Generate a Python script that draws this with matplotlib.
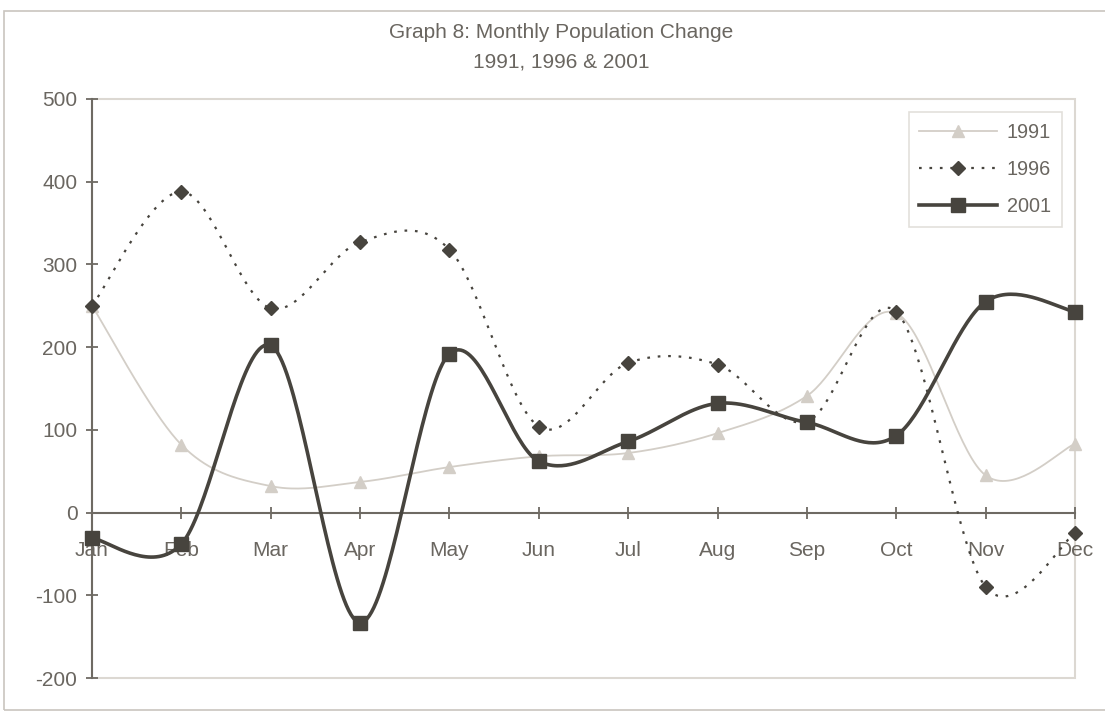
import numpy as np
import matplotlib
matplotlib.use("Agg")
import matplotlib.pyplot as plt
from matplotlib.patches import Rectangle
from matplotlib.lines import Line2D

months = ["Jan", "Feb", "Mar", "Apr", "May", "Jun", "Jul", "Aug", "Sep", "Oct", "Nov", "Dec"]
y1991 = [250, 82, 32, 37, 55, 68, 72, 96, 141, 241, 45, 83]
y1996 = [250, 388, 247, 327, 318, 104, 181, 179, 110, 243, -90, -25]
y2001 = [-31, -38, 202, -133, 192, 62, 86, 132, 109, 93, 255, 243]
yticks = [-200, -100, 0, 100, 200, 300, 400, 500]

DARK = "#47443e"
LIGHT = "#d3cec7"
FRAME = "#dcd8d2"
TXT = "#6a6660"

plt.rcParams['font.family'] = ['Liberation Sans', 'DejaVu Sans']

W, H = 1105, 711
fig = plt.figure(figsize=(W / 100, H / 100), dpi=100)

# outer chart border
fig.patches.append(Rectangle((4 / W, 1 / H), (W + 10) / W, 699 / H, transform=fig.transFigure,
                             fill=False, edgecolor="#c9c5bf", linewidth=1.2))

ax = fig.add_axes([92 / W, (H - 678) / H, (1075 - 92) / W, (678 - 99) / H])
ax.patch.set_alpha(0)


def smooth(xs, ys, n=40):
    xs = np.asarray(xs, float)
    ys = np.asarray(ys, float)
    P = np.column_stack([xs, ys])
    Pm = np.vstack([P[0], P, P[-1]])
    out = []
    for i in range(len(P) - 1):
        p0, p1, p2, p3 = Pm[i], Pm[i + 1], Pm[i + 2], Pm[i + 3]
        c1 = p1 + (p2 - p0) / 6.0
        c2 = p2 - (p3 - p1) / 6.0
        t = np.linspace(0, 1, n)[:, None]
        seg = ((1 - t) ** 3) * p1 + 3 * ((1 - t) ** 2) * t * c1 + 3 * (1 - t) * t ** 2 * c2 + t ** 3 * p2
        if i > 0:
            seg = seg[1:]
        out.append(seg)
    c = np.vstack(out)
    return c[:, 0], c[:, 1]


x = np.arange(len(months))

sx, sy = smooth(x, y1991)
ax.plot(sx, sy, color=LIGHT, lw=1.3, zorder=3, clip_on=False)
ax.plot(x, y1991, ls='none', marker='^', ms=8, color=LIGHT, zorder=4, clip_on=False)

sx, sy = smooth(x, y1996)
ax.plot(sx, sy, color=DARK, lw=1.6, ls=(0, (1.2, 3.5)), zorder=5, clip_on=False)
ax.plot(x, y1996, ls='none', marker='D', ms=7, color=DARK, zorder=6, clip_on=False)

sx, sy = smooth(x, y2001)
ax.plot(sx, sy, color=DARK, lw=2.6, zorder=7, clip_on=False, solid_capstyle='round')
ax.plot(x, y2001, ls='none', marker='s', ms=10.5, color=DARK, zorder=8, clip_on=False)

ax.set_xlim(0, 11)
ax.set_ylim(-200, 500)

# frame: light top/right/bottom
ax.add_patch(Rectangle((0, 0), 1, 1, transform=ax.transAxes, fill=False,
                       edgecolor=FRAME, lw=1.5, zorder=1, clip_on=False))
for s in ['top', 'right']:
    ax.spines[s].set_visible(False)
ax.spines['left'].set_color("#6e6a63")
ax.spines['left'].set_linewidth(1.5)
ax.spines['bottom'].set_position(('data', 0))
ax.spines['bottom'].set_color("#6e6a63")
ax.spines['bottom'].set_linewidth(1.5)
ax.spines['left'].set_zorder(2)
ax.spines['bottom'].set_zorder(2)

ax.set_yticks(yticks)
ax.set_yticklabels([str(v) for v in yticks])
ax.set_xticks(x)
ax.set_xticklabels(months)
ax.tick_params(axis='y', direction='inout', length=9, width=1.3, color="#6e6a63",
               labelsize=15, labelcolor=TXT, pad=6)
ax.tick_params(axis='x', direction='inout', length=9, width=1.3, color="#6e6a63",
               labelsize=15, labelcolor=TXT, pad=16)
for lab in ax.get_xticklabels():
    lab.set_zorder(9)

fig.text(561 / W, 1 - 32 / H, "Graph 8: Monthly Population Change", ha='center', va='center',
         fontsize=15, color=TXT)
fig.text(561 / W, 1 - 62 / H, "1991, 1996 & 2001", ha='center', va='center',
         fontsize=15, color=TXT)

handles = [
    Line2D([], [], color=LIGHT, lw=1.3, marker='^', ms=8),
    Line2D([], [], color=DARK, lw=1.6, ls=(0, (1.2, 3.5)), marker='D', ms=7),
    Line2D([], [], color=DARK, lw=2.6, marker='s', ms=10.5),
]
leg = ax.legend(handles, ["1991", "1996", "2001"], loc='upper right',
                bbox_to_anchor=((1062 - 92) / (1075 - 92), 1 - (112 - 99) / (678 - 99)),
                frameon=True, fancybox=False, edgecolor=FRAME, fontsize=14.3,
                handlelength=3.9, handletextpad=0.5, labelspacing=0.9, borderpad=0.55,
                borderaxespad=0)
leg.get_frame().set_linewidth(1.2)
for t in leg.get_texts():
    t.set_color(TXT)

fig.savefig("out.png", dpi=100)
